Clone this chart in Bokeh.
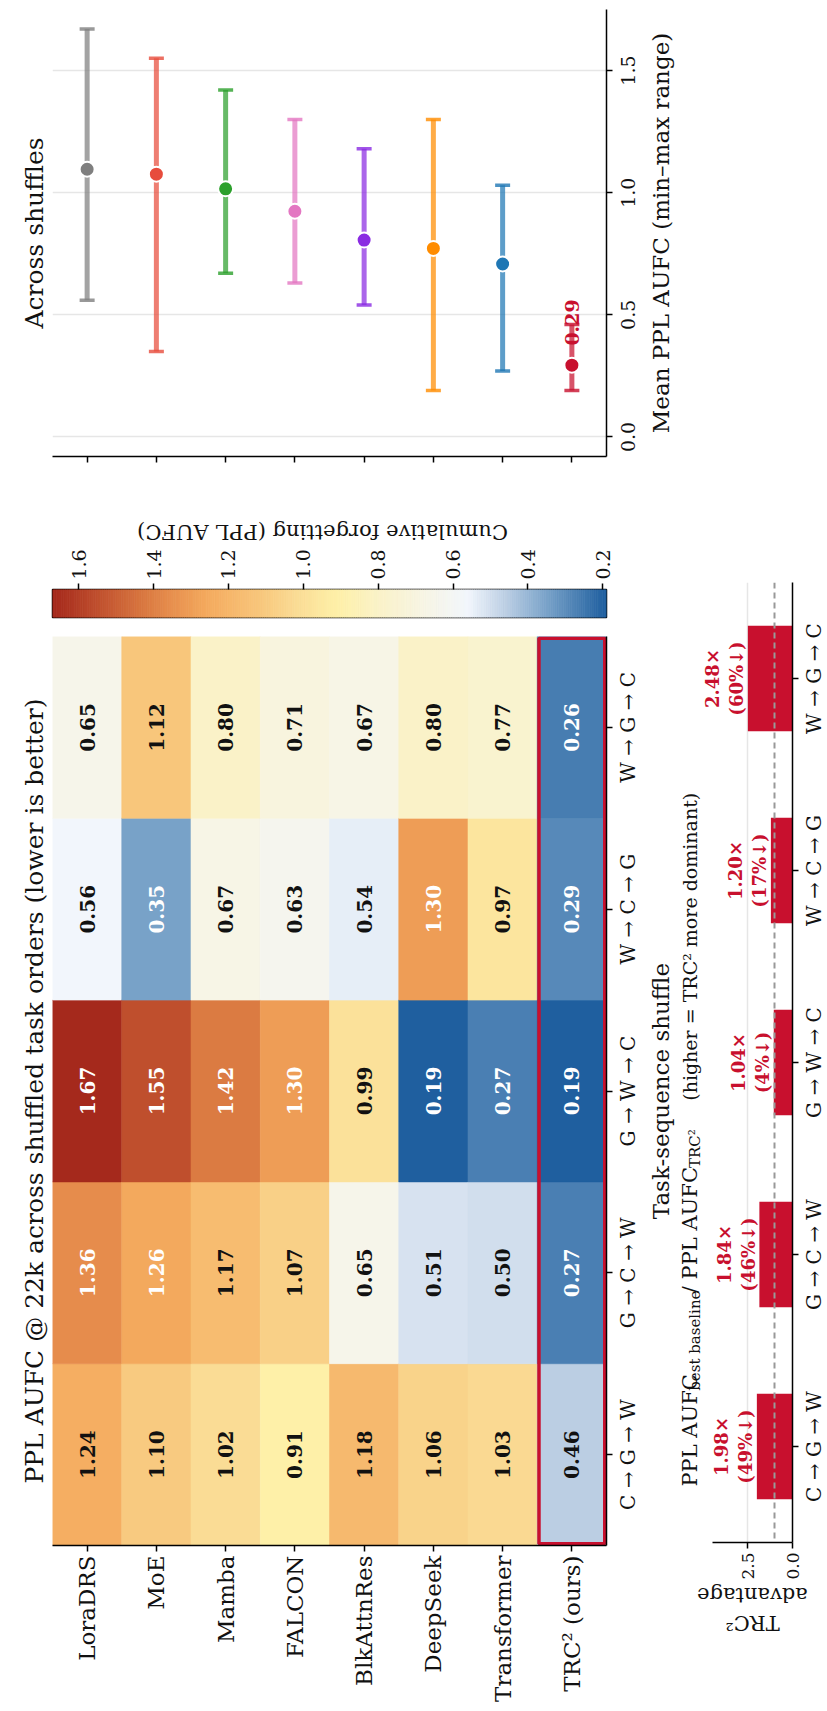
import math

import numpy as np
from bokeh.core.properties import value
from bokeh.embed import file_html
from bokeh.layouts import column, row
from bokeh.models import (ColumnDataSource, FactorRange, FixedTicker,
                          LinearColorMapper, NumeralTickFormatter, Range1d, Span, Title)
from bokeh.plotting import figure
from bokeh.resources import INLINE
from bokeh.transform import transform

# ---------------------------------------------------------------- data
models = ["LoraDRS", "MoE", "Mamba", "FALCON", "BlkAttnRes", "DeepSeek",
          "Transformer", "TRC² (ours)"]
shuffles = ["C → G → W", "G → C → W", "G → W → C", "W → C → G", "W → G → C"]

# PPL AUFC @ 22k, one list per model, in the order of `shuffles`
aufc_loradrs = [1.24, 1.36, 1.67, 0.56, 0.65]
aufc_moe = [1.10, 1.26, 1.55, 0.35, 1.12]
aufc_mamba = [1.02, 1.17, 1.42, 0.67, 0.80]
aufc_falcon = [0.91, 1.07, 1.30, 0.63, 0.71]
aufc_blkattnres = [1.18, 0.65, 0.99, 0.54, 0.67]
aufc_deepseek = [1.06, 0.51, 0.19, 1.30, 0.80]
aufc_transformer = [1.03, 0.50, 0.27, 0.97, 0.77]
aufc_trc2 = [0.46, 0.27, 0.19, 0.29, 0.26]

# best-baseline / TRC2 ratio per shuffle and the matching reduction in %
advantage = [1.98, 1.84, 1.04, 1.20, 2.48]
reduction_pct = [49, 46, 4, 17, 60]

value_ticks = [0.0, 0.5, 1.0, 1.5]
cbar_ticks = [0.2, 0.4, 0.6, 0.8, 1.0, 1.2, 1.4, 1.6]
advantage_ticks = [0.0, 2.5]

aufc_rows = [aufc_loradrs, aufc_moe, aufc_mamba, aufc_falcon, aufc_blkattnres,
             aufc_deepseek, aufc_transformer, aufc_trc2]

# ---------------------------------------------------------------- style
SERIF = "DejaVu Serif"
CRIMSON = "#c8102e"
INK = "#111111"
model_colors = ["#7f7f7f", "#e74c3c", "#2ca02c", "#e377c2", "#8a2be2",
                "#ff8c00", "#1f77b4", CRIMSON]

# diverging red-yellow-blue map (fraction along the colour bar, colour)
cmap_stops = [(0.000, "#1f5f9f"), (0.108, "#7aa3c9"), (0.182, "#bccfe4"),
              (0.250, "#f2f6fc"), (0.331, "#f7f5e4"), (0.412, "#faf2c8"),
              (0.486, "#fef0a8"), (0.561, "#fadc95"), (0.628, "#f8c67b"),
              (0.723, "#f4aa5e"), (0.791, "#e68d4c"), (0.831, "#db7b42"),
              (0.919, "#c0502e"), (1.000, "#a5291c")]


def build_palette(stops, n=256):
    pos = [s[0] for s in stops]
    rgb = np.array([[int(c[i:i + 2], 16) for i in (1, 3, 5)] for _, c in stops])
    out = []
    for t in np.linspace(0, 1, n):
        r, g, b = (int(round(np.interp(t, pos, rgb[:, k]))) for k in range(3))
        out.append("#%02x%02x%02x" % (r, g, b))
    return out


palette = build_palette(cmap_stops)
all_vals = [v for r in aufc_rows for v in r]
vmin, vmax = min(all_vals), max(all_vals)
mapper = LinearColorMapper(palette=palette, low=vmin, high=vmax)

UP = math.pi / 2      # text reading bottom-to-top
FLIP = math.pi        # upside-down text

common = dict(toolbar_location=None, output_backend="svg",
              background_fill_color="white", border_fill_color="white")


def style_axis(ax, size="20px"):
    ax.axis_line_color = "black"
    ax.axis_line_width = 1.5
    ax.major_tick_line_color = "black"
    ax.major_tick_line_width = 1.5
    ax.major_tick_in = 0
    ax.major_tick_out = 6
    ax.minor_tick_line_color = None
    ax.major_label_text_font = SERIF
    ax.major_label_text_font_size = size
    ax.major_label_text_color = INK
    ax.major_label_standoff = 4


def ticks_only(ax):
    ax.major_label_text_font_size = "0px"
    ax.major_label_text_color = None
    ax.major_label_standoff = 0


def panel_title(fig, text):
    fig.add_layout(Title(text=text, align="center", text_font=SERIF,
                         text_font_size="25px", text_font_style="normal",
                         text_color=INK, standoff=8), "left")


def strip(width, height, x_range, y_range, top=0, bottom=0):
    """Axis-free canvas that carries rotated text next to a panel."""
    f = figure(width=width, height=height, x_range=x_range, y_range=y_range,
               x_axis_location=None, y_axis_location=None,
               min_border_left=0, min_border_right=0,
               min_border_top=top, min_border_bottom=bottom, **common)
    f.outline_line_color = None
    f.grid.visible = False
    return f


def write(fig, xs, ys, texts, size, angle=UP, align="center", baseline="middle",
          color=INK, style="normal"):
    fig.text(x=xs, y=ys, text=texts, angle=angle, text_align=align,
             text_baseline=baseline, text_font=value(SERIF),
             text_font_size=size, text_color=color, text_font_style=style)


x_models = FactorRange(factors=models)
y_shuffles = FactorRange(factors=shuffles)
n_models = len(models)
n_shuffles = len(shuffles)

# ---------------------------------------------------------------- mean / range per model
means = [float(np.mean(r)) for r in aufc_rows]
lows = [min(r) for r in aufc_rows]
highs = [max(r) for r in aufc_rows]
err_src = ColumnDataSource(dict(model=models, lo=lows, hi=highs, mean=means,
                                color=model_colors))

val_lo, val_hi = -0.08, 1.75
E = figure(width=614, height=500, x_range=x_models, y_range=Range1d(val_lo, val_hi),
           y_axis_location="right", min_border_left=52, min_border_right=8,
           min_border_top=9, min_border_bottom=44, **common)
E.outline_line_color = None
E.xgrid.visible = False
E.ygrid.ticker = FixedTicker(ticks=value_ticks)
E.ygrid.grid_line_color = "#e6e6e6"
E.ygrid.grid_line_width = 1.5
style_axis(E.xaxis[0])
ticks_only(E.xaxis[0])
style_axis(E.yaxis[0])
E.yaxis[0].ticker = FixedTicker(ticks=value_ticks)
ticks_only(E.yaxis[0])
panel_title(E, "Across shuffles")

E.segment(x0="model", y0="lo", x1="model", y1="hi", line_color="color",
          line_width=5, line_alpha=0.72, source=err_src)
E.scatter(x="model", y="lo", marker="dash", size=15, line_color="color",
          line_width=3.5, line_alpha=0.8, source=err_src)
E.scatter(x="model", y="hi", marker="dash", size=15, line_color="color",
          line_width=3.5, line_alpha=0.8, source=err_src)
E.scatter(x="model", y="mean", marker="circle", size=15, fill_color="color",
          line_color="white", line_width=2, source=err_src)
write(E, [models[-1]], [means[-1] + 0.08], [f"{means[-1]:.2f}"], "19px",
      align="left", color=CRIMSON, style="bold")

# value tick labels and axis title, right of the panel
Es = strip(213, 500, Range1d(0, 213), E.y_range, top=9, bottom=44)
write(Es, [13] * len(value_ticks), value_ticks,
      [f"{t:.1f}" for t in value_ticks], "19px")
write(Es, [46], [(val_lo + val_hi) / 2], ["Mean PPL AUFC (min–max range)"], "23px")

# ---------------------------------------------------------------- colour bar
Cl = strip(675, 45, Range1d(0, 675), Range1d(45, 0))
write(Cl, [329], [31], ["Cumulative forgetting (PPL AUFC)"], "21px", angle=FLIP)

C = figure(width=675, height=82, x_range=Range1d(vmax, vmin), y_range=Range1d(0, 1),
           x_axis_location="above", y_axis_location=None,
           min_border_left=52, min_border_right=69, min_border_top=44,
           min_border_bottom=10, **common)
C.outline_line_color = "black"
C.outline_line_width = 1.5
C.grid.visible = False
edges = np.linspace(vmin, vmax, len(palette) + 1)
C.quad(left=edges[:-1], right=edges[1:], bottom=0, top=1, fill_color=palette,
       line_color=palette, line_width=0.8)
style_axis(C.xaxis[0], "19px")
C.xaxis[0].ticker = FixedTicker(ticks=cbar_ticks)
C.xaxis[0].formatter = NumeralTickFormatter(format="0.0")
C.xaxis[0].major_label_orientation = UP
C.xaxis[0].axis_line_color = None

# ---------------------------------------------------------------- heatmap
cells = dict(model=[], shuffle=[], val=[], label=[], tcolor=[])
for m, r in zip(models, aufc_rows):
    for s, v in zip(shuffles, r):
        cells["model"].append(m)
        cells["shuffle"].append(s)
        cells["val"].append(v)
        cells["label"].append(f"{v:.2f}")
        cells["tcolor"].append("white" if (v >= 1.25 or v <= 0.36) else INK)
cell_src = ColumnDataSource(cells)

H = figure(width=614, height=1084, x_range=x_models, y_range=y_shuffles,
           y_axis_location="right", min_border_left=52, min_border_right=8,
           min_border_top=9, min_border_bottom=166, **common)
H.outline_line_color = None
H.grid.visible = False
H.rect(x="model", y="shuffle", width=1, height=1, source=cell_src,
       fill_color=transform("val", mapper), line_color=transform("val", mapper),
       line_width=0.6)
H.text(x="model", y="shuffle", text="label", source=cell_src, angle=UP,
       text_align="center", text_baseline="middle", text_font=value(SERIF),
       text_font_style="bold", text_font_size="20px", text_color="tcolor")
H.rect(x=[models[-1]], y=[shuffles[n_shuffles // 2]], width=0.95,
       height=n_shuffles - 0.02, fill_color=None, line_color=CRIMSON, line_width=3.5)
style_axis(H.xaxis[0], "23px")
H.xaxis[0].major_label_orientation = UP
style_axis(H.yaxis[0])
ticks_only(H.yaxis[0])
panel_title(H, "PPL AUFC @ 22k across shuffled task orders (lower is better)")

Hs = strip(61, 1084, Range1d(0, 61), y_shuffles, top=9, bottom=166)
write(Hs, [13] * n_shuffles, shuffles, shuffles, "20px")
write(Hs, [46], [shuffles[n_shuffles // 2]], ["Task-sequence shuffle"], "23px")

# ---------------------------------------------------------------- advantage bars
adv_axis_top = 4.45
B = figure(width=99, height=1082, x_range=Range1d(5.0, 0),
           y_range=FactorRange(factors=shuffles), y_axis_location="right",
           min_border_left=0, min_border_right=9, min_border_top=82,
           min_border_bottom=40, **common)
B.outline_line_color = None
B.ygrid.visible = False
B.xgrid.ticker = FixedTicker(ticks=[2.5])
B.xgrid.grid_line_color = "#e6e6e6"
B.xgrid.grid_line_width = 1.5
B.hbar(y=shuffles, left=0, right=advantage, height=0.55, fill_color=CRIMSON,
       line_color=None)
B.add_layout(Span(location=1.0, dimension="height", line_color="#999999",
                  line_dash="6 4", line_width=2))
B.text(x=[a + 0.03 for a in advantage], y=shuffles,
       text=[f"{a:.2f}×\n({p}%↓)" for a, p in zip(advantage, reduction_pct)],
       angle=UP, text_align="center", text_baseline="bottom",
       text_font=value(SERIF), text_font_style="bold", text_font_size="18px",
       text_color=CRIMSON, text_line_height=1.15)
style_axis(B.xaxis[0], "17px")
B.xaxis[0].bounds = (0, adv_axis_top)
B.xaxis[0].ticker = FixedTicker(ticks=advantage_ticks)
B.xaxis[0].formatter = NumeralTickFormatter(format="0.0")
B.xaxis[0].major_label_orientation = UP
style_axis(B.yaxis[0])
ticks_only(B.yaxis[0])

Bs = strip(26, 1082, Range1d(0, 26), B.y_range, top=82, bottom=40)
write(Bs, [12] * n_shuffles, shuffles, shuffles, "20px")

# panel title with sub-scripted terms, set piece by piece (pixels from top)
Bt = strip(27, 1082, Range1d(0, 27), Range1d(1082, 0))
write(Bt, [14.5, 14.5], [1019, 801], ["PPL AUFC", "/ PPL AUFC"], "21px", align="left")
write(Bt, [19, 19], [911, 660], ["best baseline", "TRC²"], "15px", align="left")
write(Bt, [14.5], [237], ["(higher = TRC² more dominant)"], "19px", align="right")

Bx = strip(152, 129, Range1d(0, 152), Range1d(129, 0))
write(Bx, [77, 77], [12, 40], ["advantage", "TRC²"], "21px", angle=FLIP)

layout = column(row(E, Es),
                row(column(Cl, C, row(H, Hs)),
                    column(row(Bt, B, Bs), Bx)))
open("out.html", "w").write(file_html(layout, INLINE))
